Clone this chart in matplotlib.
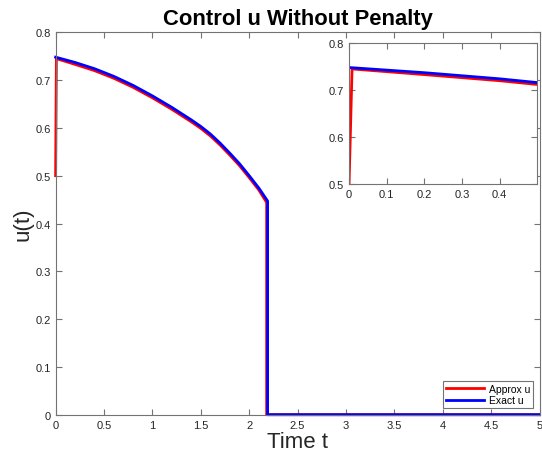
import matplotlib.pyplot as plt

plt.rcParams['font.family'] = ['Liberation Sans', 'DejaVu Sans']

# exact control along the arc up to the switching time, then zero
t_exact = [0.0, 0.2, 0.4, 0.6, 0.8, 1.0, 1.2, 1.4, 1.5, 1.6, 1.7, 1.8, 1.9, 2.0, 2.1, 2.19, 2.19, 5.0]
u_exact = [0.748, 0.737, 0.724, 0.708, 0.689, 0.667, 0.643, 0.617, 0.603, 0.587, 0.568, 0.547,
           0.525, 0.500, 0.474, 0.447, 0.0, 0.0]

# approximate control from the solver (starts at the initial guess 0.5)
t_approx = [0.0, 0.008, 0.2, 0.4, 0.6, 0.8, 1.0, 1.2, 1.4, 1.5, 1.6, 1.7, 1.8, 1.9, 2.0, 2.1, 2.18, 2.18, 5.0]
u_approx = [0.500, 0.745, 0.733, 0.720, 0.704, 0.685, 0.663, 0.639, 0.613, 0.599, 0.583, 0.564,
            0.543, 0.521, 0.496, 0.470, 0.444, 0.0, 0.0]

xticks_main = [0, 0.5, 1, 1.5, 2, 2.5, 3, 3.5, 4, 4.5, 5]
xtick_labels_main = ['0', '0.5', '1', '1.5', '2', '2.5', '3', '3.5', '4', '4.5', '5']
yticks_main = [0, 0.1, 0.2, 0.3, 0.4, 0.5, 0.6, 0.7, 0.8]
ytick_labels_main = ['0', '0.1', '0.2', '0.3', '0.4', '0.5', '0.6', '0.7', '0.8']
xticks_inset = [0, 0.1, 0.2, 0.3, 0.4]
yticks_inset = [0.5, 0.6, 0.7, 0.8]

axcol = '0.45'


def style(ax):
    for s in ax.spines.values():
        s.set_color(axcol)
        s.set_linewidth(0.8)
    ax.tick_params(direction='in', top=True, right=True, colors=axcol,
                   labelcolor='0.15', labelsize=8, length=4, width=0.8)


fig = plt.figure(figsize=(5.42, 4.64), dpi=100)
ax = fig.add_axes([0.1026, 0.1041, 0.893, 0.8241])
ax.plot(t_approx, u_approx, color='#ff0000', lw=2.0, label='Approx u', clip_on=False)
ax.plot(t_exact, u_exact, color='#0000ff', lw=2.0, label='Exact u', clip_on=False)
ax.set_xlim(0, 5)
ax.set_ylim(0, 0.8)
ax.set_xticks(xticks_main)
ax.set_xticklabels(xtick_labels_main)
ax.set_yticks(yticks_main)
ax.set_yticklabels(ytick_labels_main)
style(ax)
ax.set_xlabel('Time t', fontsize=16, color='0.15', labelpad=1)
ax.set_ylabel('u(t)', fontsize=16, color='0.15', labelpad=1)
ax.set_title('Control u Without Penalty', fontsize=15.8, fontweight='bold', pad=6)
leg = ax.legend(loc='lower right', fontsize=7.5, fancybox=False, framealpha=1,
                edgecolor=axcol, handlelength=3.6, borderpad=0.3,
                labelspacing=0.15, handletextpad=0.5, borderaxespad=0.6)
leg.get_frame().set_linewidth(0.8)

# zoom on the start of the horizon
ins = fig.add_axes([0.644, 0.601, 0.347, 0.304])
ins.plot(t_approx, u_approx, color='#ff0000', lw=2.0)
ins.plot(t_exact, u_exact, color='#0000ff', lw=2.0)
ins.set_xlim(0, 0.5)
ins.set_ylim(0.5, 0.8)
ins.set_xticks(xticks_inset)
ins.set_xticklabels(['0', '0.1', '0.2', '0.3', '0.4'])
ins.set_yticks(yticks_inset)
ins.set_yticklabels(['0.5', '0.6', '0.7', '0.8'])
style(ins)

fig.savefig('out.png', dpi=100)
